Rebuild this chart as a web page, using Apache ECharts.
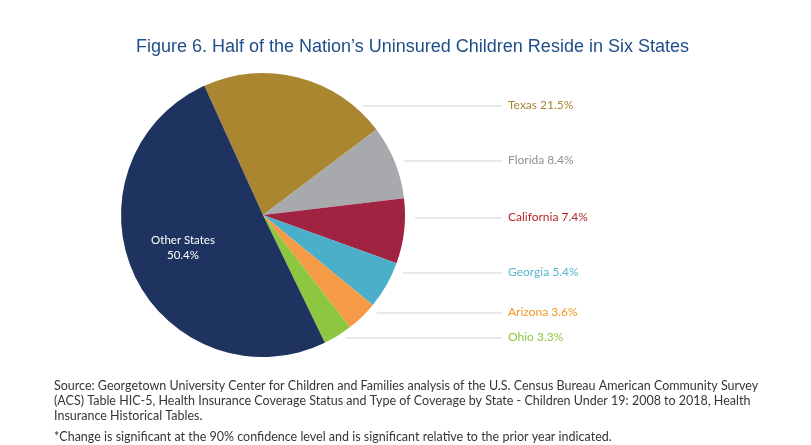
<!DOCTYPE html>
<html>
<head>
<meta charset="utf-8">
<script src="https://cdn.jsdelivr.net/npm/echarts@6/dist/echarts.min.js"></script>
<style>
  html, body { margin: 0; padding: 0; background: #fff; }
  #chart { width: 811px; height: 445px; }
</style>
</head>
<body>
<div id="chart"></div>
<script>
// Share of uninsured children by state (percent)
const states = ['Texas', 'Florida', 'California', 'Georgia', 'Arizona', 'Ohio', 'Other States'];
const shares = [21.5, 8.4, 7.4, 5.4, 3.6, 3.3, 50.4];
const sliceColors = ['#aa8631', '#a7a9ac', '#a02442', '#4bafc9', '#f59a47', '#8dc63f', '#1f3360'];
const labelColors = ['#a8842f', '#8f9093', '#b3272d', '#5ab4d0', '#f7941d', '#8dc63f', '#ffffff'];

// Label rows on the right (y in px) and the callout end
const labelRows = [105, 160, 217, 272, 312, 337];
const calloutEndX = 502;
const CX = 263, CY = 215, R = 142;

const sourceLines = [
  'Source: Georgetown University Center for Children and Families analysis of the U.S. Census Bureau American Community Survey',
  '(ACS) Table HIC-5, Health Insurance Coverage Status and Type of Coverage by State - Children Under 19: 2008 to 2018, Health',
  'Insurance Historical Tables.'
];
const footnote = '*Change is significant at the 90% confidence level and is significant relative to the prior year indicated.';

const chart = echarts.init(document.getElementById('chart'), null, { renderer: 'canvas' });

const data = states.map((name, i) => {
  const item = {
    name,
    value: shares[i],
    itemStyle: { color: sliceColors[i] },
    label: { color: labelColors[i] }
  };
  if (name === 'Other States') {
    item.label = {
      position: 'inside',
      color: '#ffffff',
      fontSize: 11.5,
      lineHeight: 15,
      offset: [-13, 1],
      formatter: p => p.name + '\n' + p.value.toFixed(1) + '%'
    };
    item.labelLine = { show: false };
  }
  return item;
});

chart.setOption({
  animation: false,
  title: {
    text: 'Figure 6. Half of the Nation\u2019s Uninsured Children Reside in Six States',
    left: 131,
    top: 33,
    textStyle: {
      fontFamily: 'Liberation Sans, Arial, sans-serif',
      fontSize: 18,
      fontWeight: 'normal',
      color: '#1f4e89'
    }
  },
  series: [{
    type: 'pie',
    center: [CX, CY],
    radius: R,
    startAngle: 114.4,
    clockwise: true,
    avoidLabelOverlap: false,
    data,
    label: {
      show: true,
      position: 'outside',
      fontFamily: 'Lato, sans-serif',
      fontSize: 12,
      formatter: p => p.name + ' ' + p.value.toFixed(1) + '%'
    },
    labelLine: {
      show: true,
      lineStyle: { color: '#d3d3d3', width: 1 }
    },
    labelLayout: function (params) {
      const i = params.dataIndex;
      if (i >= labelRows.length) return {};
      const y = labelRows[i];
      const dy = y - CY;
      const edgeX = CX + Math.sqrt(Math.max(0, R * R - dy * dy));
      return {
        x: calloutEndX + 6,
        y: y,
        align: 'left',
        verticalAlign: 'middle',
        labelLinePoints: [[edgeX + 10, y + 1], [calloutEndX, y + 1], [calloutEndX, y + 1]]
      };
    }
  }],
  graphic: [
    ...sourceLines.map((t, i) => ({
      type: 'text',
      left: 54,
      top: 379 + i * 15,
      style: {
        text: t,
        fill: '#363636',
        font: '12.5px "Lato", sans-serif'
      }
    })),
    {
      type: 'text',
      left: 54,
      top: 430,
      style: {
        text: footnote,
        fill: '#363636',
        font: '12.5px "Lato", sans-serif'
      }
    }
  ]
});
</script>
</body>
</html>
